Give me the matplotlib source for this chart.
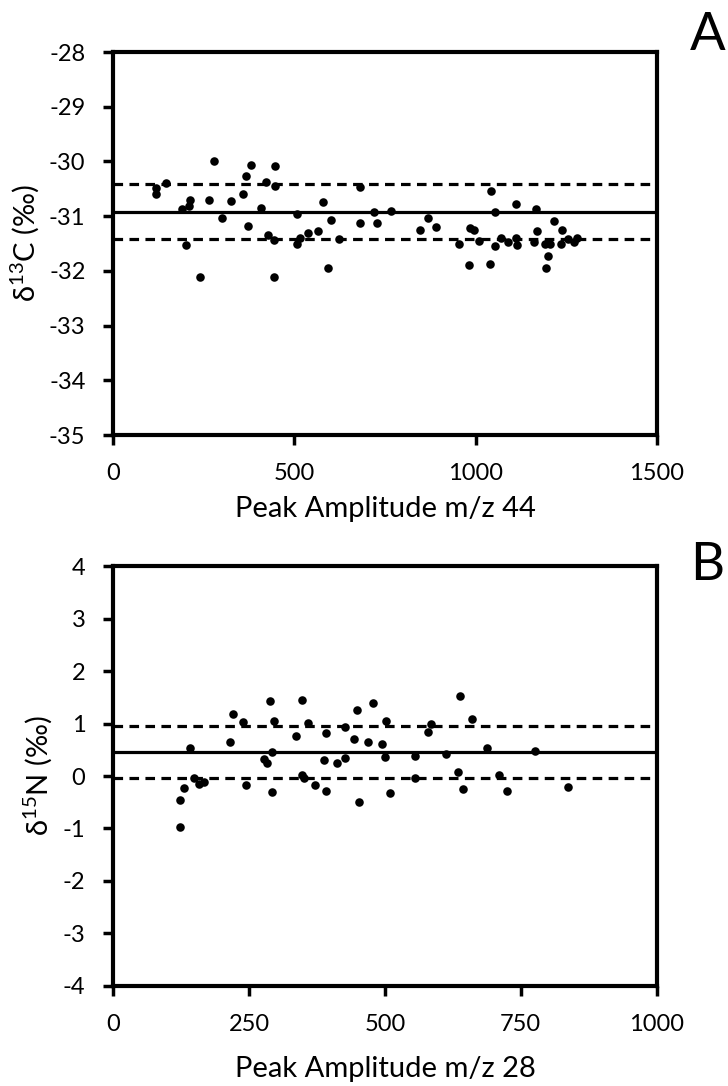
import numpy as np
import matplotlib.pyplot as plt

plt.rcParams['font.family'] = ['Lato', 'DejaVu Sans']
plt.rcParams['mathtext.fontset'] = 'custom'
plt.rcParams['mathtext.rm'] = 'Lato'
plt.rcParams['mathtext.it'] = 'Lato:italic'
plt.rcParams['axes.unicode_minus'] = False

# panel A : d13C vs peak amplitude m/z 44
amp_44 = [118, 118, 145, 189, 212, 210, 201, 239, 279, 265, 301, 324, 359, 366, 379,
          373, 407, 421, 426, 443, 446, 446, 443, 508, 506, 515, 538, 564, 578, 601,
          593, 624, 680, 680, 721, 728, 768, 848, 869, 890, 953, 981, 986, 996, 1009,
          1040, 1042, 1055, 1053, 1070, 1090, 1113, 1113, 1115, 1166, 1171, 1161, 1191,
          1201, 1194, 1205, 1216, 1239, 1237, 1256, 1272, 1281]
d13c = [-30.48, -30.60, -30.40, -30.87, -30.70, -30.81, -31.53, -32.11, -29.99, -30.70,
        -31.03, -30.72, -30.59, -30.26, -30.06, -31.18, -30.85, -30.37, -31.34, -31.43,
        -30.09, -30.45, -32.11, -30.96, -31.51, -31.39, -31.31, -31.28, -30.75, -31.07,
        -31.95, -31.42, -30.46, -31.12, -30.92, -31.13, -30.90, -31.26, -31.03, -31.20,
        -31.51, -31.89, -31.22, -31.25, -31.45, -31.88, -30.54, -30.92, -31.54, -31.40,
        -31.48, -30.78, -31.39, -31.53, -30.87, -31.27, -31.48, -31.51, -31.72, -31.94,
        -31.50, -31.09, -31.25, -31.51, -31.42, -31.48, -31.39]
mean_13c = -30.92
band_13c = 0.5

# panel B : d15N vs peak amplitude m/z 28
amp_28 = [122, 123, 131, 141, 148, 158, 167, 215, 221, 239, 244, 278, 282, 288, 296,
          293, 292, 336, 348, 358, 347, 351, 371, 392, 387, 391, 411, 426, 426, 448,
          443, 452, 478, 469, 495, 502, 500, 509, 556, 556, 584, 579, 612, 638, 634,
          643, 661, 688, 710, 724, 777, 836]
d15n = [-0.97, -0.46, -0.23, 0.54, -0.04, -0.15, -0.11, 0.64, 1.19, 1.03, -0.17, 0.32,
        0.25, 1.42, 1.05, 0.45, -0.30, 0.77, 1.45, 1.01, 0.02, -0.04, -0.18, 0.81, 0.30,
        -0.29, 0.25, 0.93, 0.34, 1.26, 0.70, -0.50, 1.40, 0.64, 0.61, 1.05, 0.37, -0.32,
        0.39, -0.04, 1.00, 0.83, 0.42, 1.52, 0.08, -0.25, 1.09, 0.54, 0.01, -0.29, 0.48,
        -0.20]
mean_15n = 0.46
band_15n = 0.49


def style_axes(ax):
    for s in ax.spines.values():
        s.set_linewidth(3)
    ax.tick_params(direction='out', length=7, width=2.5, labelsize=17, pad=13)


def draw_panel(ax, x, y, mean, band, xlim, xticks, ylim, ylabel, xlabel, xpad):
    ax.scatter(x, y, s=38, color='black', zorder=3, linewidths=0)
    ax.axhline(mean, color='black', lw=2.3)
    ax.axhline(mean + band, color='black', lw=2.3, ls=(0, (3, 2)))
    ax.axhline(mean - band, color='black', lw=2.3, ls=(0, (3, 2)))
    ax.set_xlim(xlim)
    ax.set_ylim(ylim)
    ax.set_xticks(xticks)
    ax.set_yticks(np.arange(ylim[0], ylim[1] + 1, 1))
    ax.set_xlabel(xlabel, fontsize=21, labelpad=xpad)
    ax.set_ylabel(ylabel, fontsize=21, labelpad=6)
    style_axes(ax)


fig = plt.figure(figsize=(7.28, 10.86), dpi=100)
ax1 = fig.add_axes([0.1556, 0.5994, 0.7464, 0.3527])
ax2 = fig.add_axes([0.1556, 0.0921, 0.7464, 0.3867])

draw_panel(ax1, amp_44, d13c, mean_13c, band_13c, (0, 1500), [0, 500, 1000, 1500],
           (-35, -28), 'δ$^{13}$C (‰)', 'Peak Amplitude m/z 44', 9)
draw_panel(ax2, amp_28, d15n, mean_15n, band_15n, (0, 1000), [0, 250, 500, 750, 1000],
           (-4, 4), 'δ$^{15}$N (‰)', 'Peak Amplitude m/z 28', 15)

fig.text(0.972, 0.967, 'A', fontsize=38, ha='center', va='center')
fig.text(0.972, 0.479, 'B', fontsize=38, ha='center', va='center')

fig.savefig('out.png', dpi=100)
